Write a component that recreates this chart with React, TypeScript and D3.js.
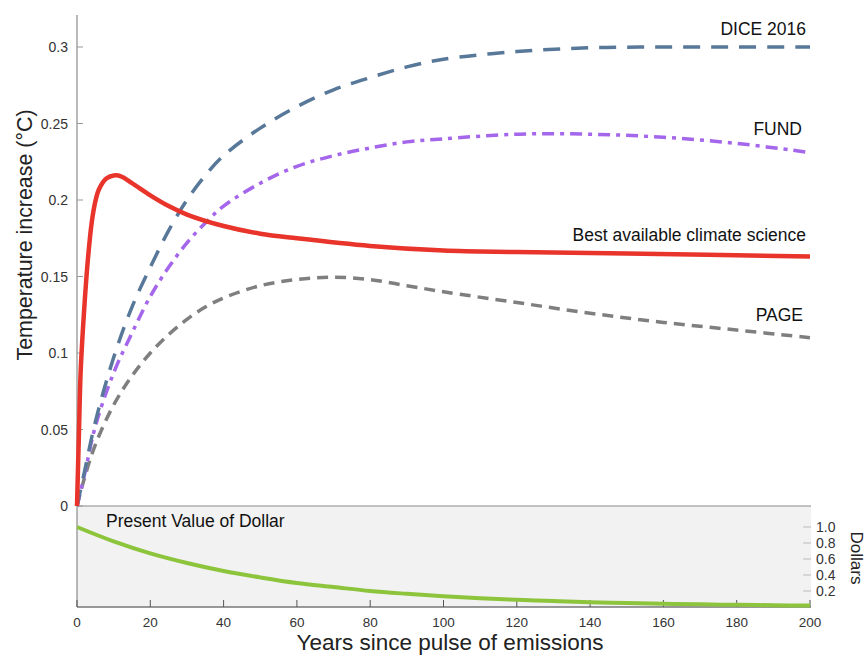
import React from "react";
import * as d3 from "d3";

const modelYears = [0, 2, 5, 10, 15, 20, 25, 30, 35, 40, 50, 60, 70, 80, 90, 100, 120, 140, 160, 180, 200];
const diceTemp = [0, 0.022, 0.055, 0.097, 0.13, 0.156, 0.18, 0.2, 0.216, 0.229, 0.247, 0.261, 0.272, 0.28, 0.287, 0.292, 0.297, 0.2995, 0.3, 0.3, 0.3];
const fundTemp = [0, 0.02, 0.052, 0.087, 0.113, 0.137, 0.156, 0.172, 0.185, 0.196, 0.211, 0.222, 0.229, 0.234, 0.238, 0.24, 0.243, 0.243, 0.241, 0.237, 0.231];
const pageTemp = [0, 0.018, 0.04, 0.066, 0.085, 0.1, 0.112, 0.122, 0.13, 0.136, 0.144, 0.148, 0.1495, 0.148, 0.144, 0.14, 0.133, 0.126, 0.12, 0.115, 0.11];

const bestYears = [0, 0.5, 1, 2, 3, 4, 5, 6, 8, 10, 12, 15, 20, 25, 30, 40, 50, 60, 80, 100, 120, 150, 200];
const bestTemp = [0, 0.045, 0.088, 0.13, 0.162, 0.185, 0.199, 0.207, 0.214, 0.216, 0.2155, 0.211, 0.203, 0.196, 0.1905, 0.183, 0.178, 0.175, 0.17, 0.167, 0.166, 0.165, 0.163];

const dollarYears = [0, 10, 20, 30, 40, 50, 60, 70, 80, 90, 100, 110, 120, 130, 140, 150, 160, 170, 180, 190, 200];
const dollarValue = [1, 0.82, 0.67, 0.55, 0.45, 0.37, 0.3, 0.25, 0.2, 0.165, 0.135, 0.11, 0.09, 0.075, 0.06, 0.05, 0.04, 0.033, 0.027, 0.022, 0.018];

const tempTicks = [0, 0.05, 0.1, 0.15, 0.2, 0.25, 0.3];
const tempTickLabels = ["0", "0.05", "0.1", "0.15", "0.2", "0.25", "0.3"];
const yearTicks = [0, 20, 40, 60, 80, 100, 120, 140, 160, 180, 200];
const dollarTicks = [0.2, 0.4, 0.6, 0.8, 1.0];
const dollarTickLabels = ["0.2", "0.4", "0.6", "0.8", "1.0"];

const seriesLabels = ["DICE 2016", "FUND", "Best available climate science", "PAGE"];

const FONT = "'Liberation Sans', Arial, Helvetica, sans-serif";

export default function App() {
  const x = d3.scaleLinear().domain([0, 200]).range([77, 810]);
  const y = d3.scaleLinear().domain([0, 0.3]).range([506, 47]);
  const yd = d3.scaleLinear().domain([0, 1]).range([607, 527]);

  const line = (xs: number[], vs: number[], ys: d3.ScaleLinear<number, number>) =>
    d3
      .line<number>()
      .x((_, i) => x(xs[i]))
      .y((v) => ys(v))
      .curve(d3.curveCatmullRom.alpha(0.5))(vs) as string;

  return (
    <svg
      width={865}
      height={656}
      style={{ position: "absolute", left: 0, top: 0, background: "#fff" }}
      fontFamily={FONT}
    >
      {/* bottom panel background */}
      <rect x={77} y={506} width={734} height={101} fill="#f2f2f2" />
      <line x1={77} x2={811} y1={506} y2={506} stroke="#8a8a8a" strokeWidth={1.2} />
      {/* axes */}
      <line x1={77} x2={77} y1={15} y2={607} stroke="#8a8a8a" strokeWidth={1.2} />
      <line x1={77} x2={811} y1={607} y2={607} stroke="#777" strokeWidth={1.5} />

      {/* left ticks */}
      {tempTicks.map((t, i) => (
        <g key={"yt" + i}>
          <line x1={77} x2={83} y1={y(t)} y2={y(t)} stroke="#999" strokeWidth={1} />
          <text x={68} y={y(t) + 5} textAnchor="end" fontSize={14} fill="#333">
            {tempTickLabels[i]}
          </text>
        </g>
      ))}

      {/* bottom ticks */}
      {yearTicks.map((t, i) => (
        <g key={"xt" + i}>
          <line x1={x(t)} x2={x(t)} y1={607} y2={600} stroke="#555" strokeWidth={1} />
          <text x={x(t)} y={627} textAnchor="middle" fontSize={13.5} fill="#333">
            {t}
          </text>
        </g>
      ))}

      {/* right dollar ticks */}
      {dollarTicks.map((t, i) => (
        <g key={"dt" + i}>
          <line x1={803} x2={811} y1={yd(t)} y2={yd(t)} stroke="#bbb" strokeWidth={1} />
          <text x={816} y={yd(t) + 5} textAnchor="start" fontSize={14} fill="#333">
            {dollarTickLabels[i]}
          </text>
        </g>
      ))}

      {/* series */}
      <path
        d={line(modelYears, pageTemp, y)}
        fill="none"
        stroke="#7f7f7f"
        strokeWidth={3.5}
        strokeDasharray="11,7"
      />
      <path
        d={line(modelYears, fundTemp, y)}
        fill="none"
        stroke="#a466ea"
        strokeWidth={3.5}
        strokeDasharray="12,6,4,6"
      />
      <path
        d={line(modelYears, diceTemp, y)}
        fill="none"
        stroke="#58789a"
        strokeWidth={3.5}
        strokeDasharray="17,11"
      />
      <path d={line(bestYears, bestTemp, y)} fill="none" stroke="#e8342a" strokeWidth={4.5} />
      <path d={line(dollarYears, dollarValue, yd)} fill="none" stroke="#8cc43c" strokeWidth={4} />

      {/* series labels */}
      <text x={806} y={35} textAnchor="end" fontSize={17.5} fill="#111">{seriesLabels[0]}</text>
      <text x={802} y={135} textAnchor="end" fontSize={17.5} fill="#111">{seriesLabels[1]}</text>
      <text x={806} y={241} textAnchor="end" fontSize={17.5} fill="#111">{seriesLabels[2]}</text>
      <text x={803} y={321} textAnchor="end" fontSize={17.5} fill="#111">{seriesLabels[3]}</text>

      <text x={106} y={527} fontSize={17.5} fill="#111">Present Value of Dollar</text>

      {/* axis titles */}
      <text
        transform="translate(32,235) rotate(-90)"
        textAnchor="middle"
        fontSize={21.4}
        fill="#222"
      >
        Temperature increase (°C)
      </text>
      <text x={450} y={650} textAnchor="middle" fontSize={22.5} fill="#222">
        Years since pulse of emissions
      </text>
      <text transform="translate(851,558) rotate(90)" textAnchor="middle" fontSize={17} fill="#222">
        Dollars
      </text>
    </svg>
  );
}
